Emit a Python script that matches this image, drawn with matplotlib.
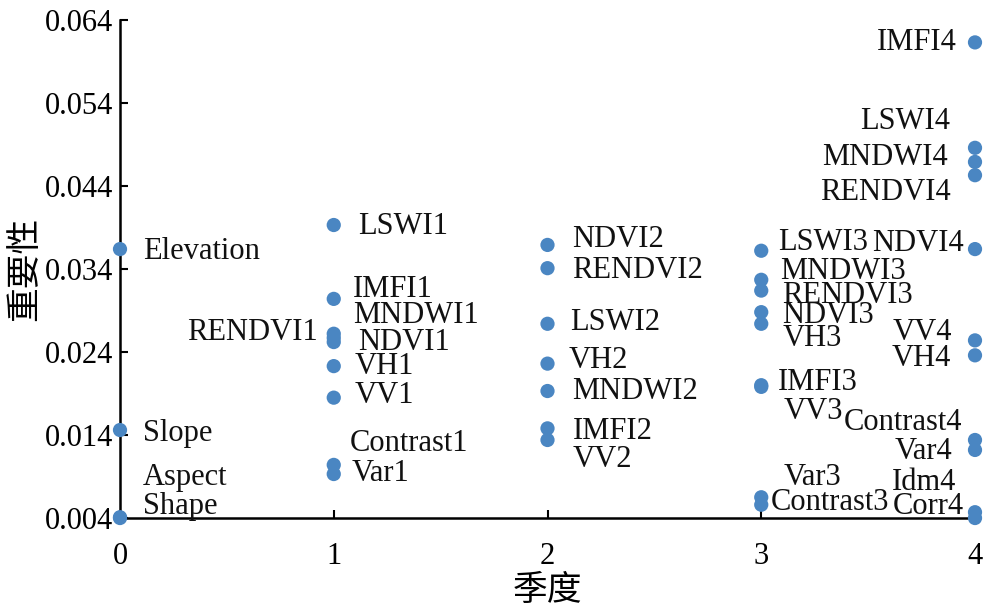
import numpy as np
import matplotlib
matplotlib.use("Agg")
import matplotlib.pyplot as plt

plt.rcParams["font.family"] = ["Liberation Serif", "Noto Sans CJK SC"]

DOT = "#4a86c2"

# 季度 0..4, 特征名称与重要性
season = [0, 0, 0, 0,
          1, 1, 1, 1, 1, 1, 1, 1, 1,
          2, 2, 2, 2, 2, 2, 2,
          3, 3, 3, 3, 3, 3, 3, 3, 3,
          4, 4, 4, 4, 4, 4, 4, 4, 4, 4, 4]
names = ["Elevation", "Slope", "Aspect", "Shape",
         "LSWI1", "IMFI1", "MNDWI1", "RENDVI1", "NDVI1", "VH1", "VV1", "Contrast1", "Var1",
         "NDVI2", "RENDVI2", "LSWI2", "VH2", "MNDWI2", "IMFI2", "VV2",
         "LSWI3", "MNDWI3", "RENDVI3", "NDVI3", "VH3", "IMFI3", "VV3", "Var3", "Contrast3",
         "IMFI4", "LSWI4", "MNDWI4", "RENDVI4", "NDVI4", "VV4", "VH4",
         "Contrast4", "Var4", "Idm4", "Corr4"]
importance = [0.0364, 0.0146, 0.0041, 0.0040,
              0.0393, 0.0304, 0.0262, 0.0257, 0.0252, 0.0223, 0.0185, 0.0104, 0.0093,
              0.0369, 0.0341, 0.0274, 0.0226, 0.0193, 0.0148, 0.0134,
              0.0362, 0.0327, 0.0314, 0.0288, 0.0274, 0.0200, 0.0198, 0.0065, 0.0056,
              0.0613, 0.0486, 0.0469, 0.0453, 0.0364, 0.0254, 0.0236,
              0.0134, 0.0122, 0.0047, 0.0040]
yticks = [0.004, 0.014, 0.024, 0.034, 0.044, 0.054, 0.064]

# posizione etichette (offset in pixel dal punto, allineamento)
label_pos = [(23, -2, "left"), (23, -3, "left"), (23, 40, "left"), (23, 12, "left"),
             (24, -1, "left"), (19, 9, "left"), (19, 18, "left"), (-16, 5, "right"),
             (24, 0, "left"), (21, 0, "left"), (21, 2, "left"), (16, 21, "left"), (18, 1, "left"),
             (25, 5, "left"), (25, -2, "left"), (23, 1, "left"), (21, 3, "left"),
             (25, 0, "left"), (25, -3, "left"), (25, -20, "left"),
             (17, 8, "left"), (19, 8, "left"), (21, -5, "left"), (21, -3, "left"),
             (21, -15, "left"), (17, 3, "left"), (22, -25, "left"), (22, 20, "left"), (9, 2, "left"),
             (-18, 0, "right"), (-25, 26, "right"), (-27, 4, "right"), (-24, -17, "right"),
             (-11, 6, "right"), (-23, 8, "right"), (-24, -3, "right"),
             (-13, 17, "right"), (-23, -2, "right"), (-19, 30, "right"), (-11, 12, "right")]

fig = plt.figure(figsize=(10, 6.15), dpi=100, facecolor="white")
ax = fig.add_axes([0.12, 0.1577, 0.855, 0.8098])

ax.scatter(season, importance, s=105, color=DOT, edgecolors="none", zorder=3, clip_on=False)
for xs, ys, nm, (dx, dy, ha) in zip(season, importance, names, label_pos):
    ax.annotate(nm, (xs, ys), xytext=(dx, dy), textcoords="offset pixels",
                ha=ha, va="center", fontsize=22, color="#111111")

ax.set_xlim(0, 4)
ax.set_ylim(0.004, 0.064)
ax.set_xticks([0, 1, 2, 3, 4])
ax.set_yticks(yticks)
ax.set_yticklabels([f"{v:.3f}" for v in yticks])
ax.tick_params(direction="in", labelsize=22, length=6, width=1.5)
ax.tick_params(axis="x", pad=17)
ax.tick_params(axis="y", pad=5)
for s in ["top", "right"]:
    ax.spines[s].set_visible(False)
for s in ["left", "bottom"]:
    ax.spines[s].set_linewidth(1.8)
ax.set_xlabel("季度", fontsize=25, family=["Noto Sans CJK SC"], labelpad=2)
ax.set_ylabel("重要性", fontsize=25, family=["Noto Sans CJK SC"], labelpad=2)

fig.savefig("out.png", dpi=100, facecolor="white")
